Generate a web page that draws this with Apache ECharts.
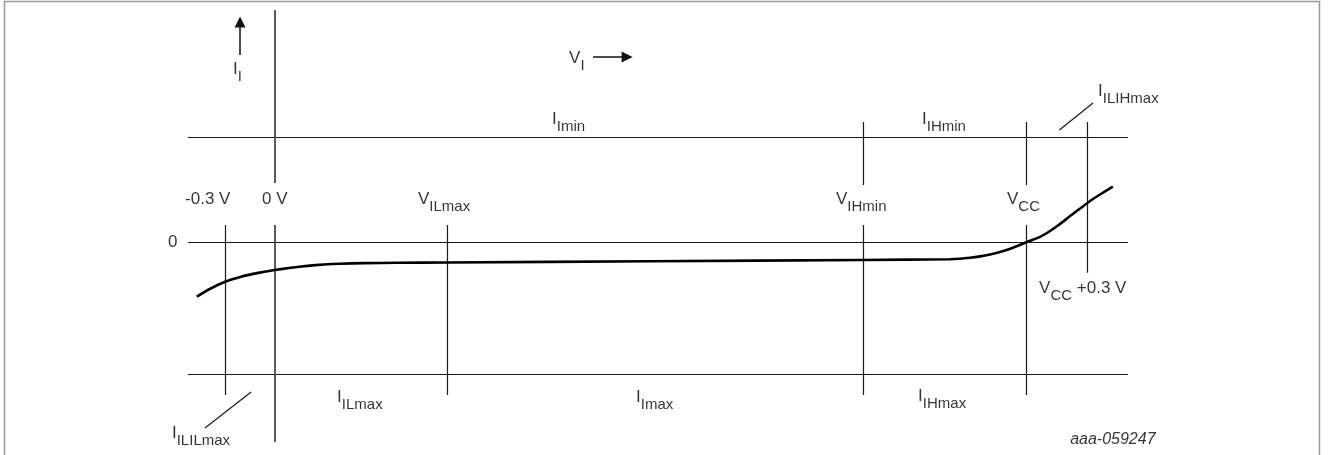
<!DOCTYPE html>
<html>
<head>
<meta charset="utf-8">
<script src="https://cdn.jsdelivr.net/npm/echarts@6/dist/echarts.min.js"></script>
<style>
html,body{margin:0;padding:0;background:#fff;}
#c{width:1328px;height:455px;}
</style>
</head>
<body>
<div id="c"></div>
<script>
// ---- data (schematic units: x = input voltage, y = input current) ----
const xRange = [-0.53, 5.22];
const yRange = [-19.05, 22.1];
// horizontal reference levels: I_Imin level, zero current, I_Imax level
const currentLevels = [10, 0, -12.57];
// vertical voltage markers: [x, yFrom, yTo]
const voltageSegments = [
  [-0.3, 1.62, -14.57],
  [1.055, 1.62, -14.57],
  [3.6, 11.43, 5.43], [3.6, 1.62, -14.57],
  [4.6, 11.43, 5.43], [4.6, 1.62, -14.57],
  [4.97, 11.43, -2.92]
];
// the current axis (at 0 V), broken around its label
const axisSegments = [
  [0, 22.1, 5.62],
  [0, 1.62, -19.05]
];
// characteristic curve I_I(V_I)
const curveV = [-0.4765, -0.4, -0.303, -0.2, -0.1, 0.0, 0.1, 0.2, 0.3, 0.4, 0.55, 0.75, 1.055, 2.3, 3.6,
  4.131, 4.192, 4.253, 4.315, 4.376, 4.437, 4.517, 4.601, 4.682, 4.743, 4.804, 4.866, 4.927, 4.988, 5.049, 5.127];
const curveI = [-5.21, -4.50, -3.78, -3.28, -2.94, -2.67, -2.45, -2.27, -2.14, -2.065, -2.01, -1.98, -1.95, -1.83, -1.71,
  -1.648, -1.60, -1.505, -1.371, -1.19, -0.952, -0.552, 0.0, 0.495, 1.048, 1.714, 2.476, 3.19, 3.905, 4.524, 5.267];
// leader lines
const leaderLines = [
  [[4.80, 10.67], [5.006, 13.24]],
  [[-0.426, -17.71], [-0.144, -14.29]]
];
// axis arrows
const arrowLines = [
  [[-0.2117, 17.81], [-0.2117, 20.95]],
  [[1.948, 17.62], [2.156, 17.62]]
];
// labels
const labelTexts = [
  '{m|I}{s|I}', '{m|V}{s|I}', '{m|I}{s|Imin}', '{m|I}{s|IHmin}', '{m|I}{s|ILIHmax}',
  '{m|-0.3 V}', '{m|0 V}', '{m|V}{s|ILmax}', '{m|V}{s|IHmin}', '{m|V}{s|CC}',
  '{m|0}', '{m|V}{s|CC}{m| +0.3 V}',
  '{m|I}{s|ILmax}', '{m|I}{s|Imax}', '{m|I}{s|IHmax}', '{m|I}{s|ILILmax}',
  '{w|aaa-059247}'
];
const labelX = [-0.2545, 1.801, 1.697, 3.960, 5.037, -0.548, -0.077, 0.877, 3.434, 4.480, -0.652, 4.676, 0.382, 2.211, 3.936, -0.628, 4.866];
const labelY = [17.24, 18.29, 12.48, 12.48, 15.14, 4.86, 4.86, 4.86, 4.86, 4.86, 0.76, -3.62, -14.0, -14.0, -13.9, -17.43, -18.10];

// ---- build ----
const FONT = "Arial, 'Liberation Sans', Helvetica, sans-serif";
const segData = [];
currentLevels.forEach(function (y) { segData.push({coords: [[xRange[0], y], [xRange[1], y]]}); });
voltageSegments.forEach(function (s) { segData.push({coords: [[s[0], s[1]], [s[0], s[2]]]}); });
leaderLines.forEach(function (l) { segData.push({coords: l}); });

const chart = echarts.init(document.getElementById('c'), null, {renderer: 'canvas'});
chart.setOption({
  animation: false,
  backgroundColor: '#fff',
  grid: {left: 188, right: 200, top: 10, bottom: 13},
  xAxis: {type: 'value', min: xRange[0], max: xRange[1], show: false},
  yAxis: {type: 'value', min: yRange[0], max: yRange[1], show: false},
  graphic: [{
    type: 'rect', silent: true, z: -1,
    shape: {x: 4.5, y: 1.5, width: 1315, height: 520},
    style: {fill: 'none', stroke: '#9a9a9a', lineWidth: 1.5}
  }],
  series: [
    {
      type: 'lines', coordinateSystem: 'cartesian2d', silent: true,
      lineStyle: {color: '#1a1a1a', width: 1.2, opacity: 1},
      data: segData
    },
    {
      type: 'lines', coordinateSystem: 'cartesian2d', silent: true,
      lineStyle: {color: '#4a4a4a', width: 1.8, opacity: 1},
      data: axisSegments.map(function (s) { return {coords: [[s[0], s[1]], [s[0], s[2]]]}; })
    },
    {
      type: 'lines', coordinateSystem: 'cartesian2d', silent: true,
      symbol: ['none', 'triangle'], symbolSize: [0, 11],
      lineStyle: {color: '#111', width: 1.5, opacity: 1},
      itemStyle: {color: '#111'},
      data: arrowLines.map(function (a) { return {coords: a}; })
    },
    {
      type: 'line', silent: true, showSymbol: false, smooth: 0.15,
      lineStyle: {color: '#000', width: 2.6},
      data: curveV.map(function (v, i) { return [v, curveI[i]]; }),
      z: 5
    },
    {
      type: 'scatter', silent: true, symbolSize: 0, clip: false,
      data: labelX.map(function (x, i) { return [x, labelY[i]]; }),
      label: {
        show: true, position: 'inside', align: 'left', verticalAlign: 'top',
        formatter: function (p) { return labelTexts[p.dataIndex]; },
        rich: {
          m: {fontFamily: FONT, fontSize: 17, color: '#000', lineHeight: 18, verticalAlign: 'top'},
          s: {fontFamily: FONT, fontSize: 15, color: '#000', lineHeight: 15, padding: [8, 0, 0, 0], verticalAlign: 'top'},
          w: {fontFamily: FONT, fontSize: 16, fontStyle: 'italic', color: '#000', lineHeight: 18, verticalAlign: 'top'}
        }
      }
    }
  ]
});
</script>
</body>
</html>
